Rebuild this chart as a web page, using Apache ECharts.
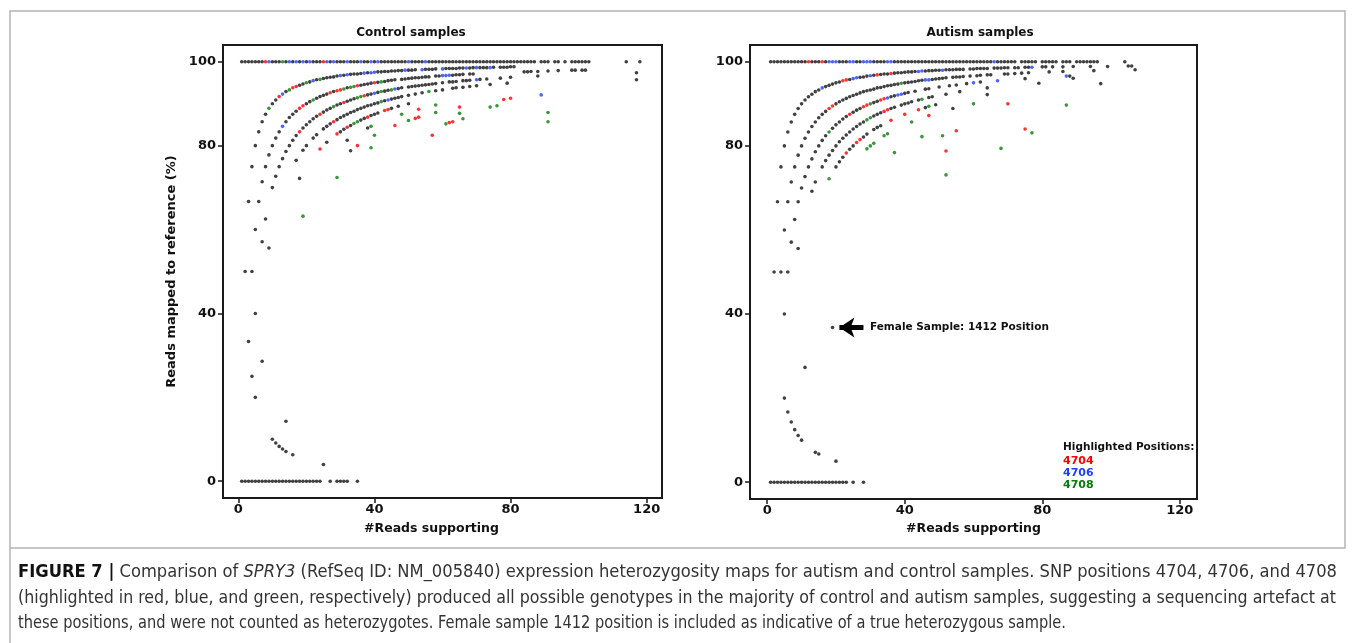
<!DOCTYPE html>
<html><head><meta charset="utf-8">
<script src="https://cdn.jsdelivr.net/npm/echarts@6/dist/echarts.min.js"></script>
<style>html,body{margin:0;padding:0;background:#fff}#c{width:1355px;height:643px}</style>
</head><body><div id="c"></div>
<script>
// ---------------- Control samples ----------------
const ctrlTop=[[1,100],[2,100],[3,100],[4,100],[5,100],[6,100],[7,100],[10,100],[11,100],[12,100],[14,100],[16,100],[18,100],[20,100],[22,100],[23,100],[24,100],[27,100],[29,100],[30,100],[31,100],[33,100],[34,100],[35,100],[37,100],[38,100],[40,100],[42,100],[43,100],[44,100],[45,100],[46,100],[47,100],[48,100],[49,100],[51,100],[52,100],[53,100],[54,100],[56,100],[57,100],[58,100],[59,100],[60,100],[61,100],[62,100],[63,100],[64,100],[65,100],[66,100],[67,100],[68,100],[69,100],[70,100],[71,100],[72,100],[73,100],[74,100],[75,100],[76,100],[77,100],[78,100],[79,100],[80,100],[81,100],[82,100],[83,100],[84,100],[85,100],[86,100],[87,100],[89,100],[90,100],[91,100],[93,100],[94,100],[96,100],[98,100],[99,100],[100,100],[101,100],[102,100],[103,100],[114,100],[118,100]];
const ctrlArc1=[[2,50],[3,66.7],[4,75],[5,80],[6,83.3],[7,85.7],[8,87.5],[10,90],[11,90.9],[14,92.9],[18,94.4],[19,94.7],[21,95.2],[23,95.7],[25,96],[26,96.2],[27,96.3],[28,96.4],[29,96.6],[31,96.8],[33,97],[34,97.1],[35,97.1],[36,97.2],[38,97.4],[41,97.6],[42,97.6],[43,97.7],[44,97.7],[45,97.8],[46,97.8],[47,97.9],[48,97.9],[50,98],[51,98],[52,98.1],[55,98.2],[56,98.2],[57,98.2],[58,98.3],[61,98.4],[62,98.4],[63,98.4],[64,98.4],[65,98.5],[66,98.5],[68,98.5],[69,98.6],[71,98.6],[72,98.6],[73,98.6],[75,98.7],[77,98.7],[78,98.7],[79,98.7],[80,98.8],[81,98.8]];
const ctrlArc2=[[3,33.3],[4,50],[5,60],[6,66.7],[7,71.4],[8,75],[9,77.8],[10,80],[11,81.8],[12,83.3],[14,85.7],[15,86.7],[16,87.5],[17,88.2],[20,90],[21,90.5],[23,91.3],[24,91.7],[25,92],[26,92.3],[28,92.9],[32,93.8],[36,94.4],[37,94.6],[38,94.7],[39,94.9],[41,95.1],[43,95.3],[44,95.5],[45,95.6],[46,95.7],[48,95.8],[49,95.9],[50,96],[51,96.1],[52,96.2],[53,96.2],[54,96.3],[55,96.4],[56,96.4],[58,96.6],[59,96.6],[63,96.8],[64,96.9],[65,96.9],[66,97],[68,97.1],[69,97.1],[84,97.6],[85,97.6],[86,97.7],[88,97.7],[91,97.8],[94,97.9],[98,98],[99,98],[101,98],[102,98]];
const ctrlArc3=[[4,25],[5,40],[7,57.1],[8,62.5],[10,70],[11,72.7],[12,75],[13,76.9],[14,78.6],[15,80],[16,81.3],[17,82.4],[19,84.2],[20,85],[21,85.7],[22,86.4],[23,87],[25,88],[26,88.5],[27,88.9],[29,89.7],[30,90],[32,90.6],[33,90.9],[34,91.2],[38,92.1],[39,92.3],[41,92.7],[43,93],[44,93.2],[47,93.6],[48,93.8],[50,94],[51,94.1],[52,94.2],[53,94.3],[54,94.4],[55,94.5],[56,94.6],[57,94.7],[58,94.8],[60,95],[62,95.2],[63,95.2],[64,95.3],[66,95.5],[67,95.5],[68,95.6],[71,95.8],[73,95.9],[77,96.1],[80,96.3],[88,96.6]];
const ctrlArc4=[[9,55.6],[17,76.5],[19,78.9],[20,80],[22,81.8],[23,82.6],[25,84],[26,84.6],[27,85.2],[29,86.2],[30,86.7],[31,87.1],[32,87.5],[33,87.9],[34,88.2],[35,88.6],[36,88.9],[37,89.2],[38,89.5],[39,89.7],[40,90],[41,90.2],[43,90.7],[45,91.1],[46,91.3],[47,91.5],[48,91.7],[50,92],[52,92.3],[54,92.6],[58,93.1],[60,93.3],[63,93.7],[64,93.8],[66,93.9],[68,94.1],[70,94.3],[74,94.6],[79,94.9]];
const ctrlArc5=[[18,72.2],[26,80.8],[30,83.3],[31,83.9],[33,84.8],[36,86.1],[37,86.5],[39,87.2],[40,87.5],[41,87.8],[45,88.9],[47,89.4],[50,90]];
const ctrlLow=[[32,81.3],[33,78.8],[38,84.2],[7,28.6],[5,20],[14,14.3],[10,10],[11,9.1],[12,8.3],[13,7.7],[14,7.1],[16,6.3],[25,4],[117,97.4],[117,95.7],
[1,0],[2,0],[3,0],[4,0],[5,0],[6,0],[7,0],[8,0],[9,0],[10,0],[11,0],[12,0],[13,0],[14,0],[15,0],[16,0],[17,0],[18,0],[19,0],[20,0],[21,0],[22,0],[23,0],[24,0],[27,0],[29,0],[30,0],[31,0],[32,0],[35,0]];
const ctrlRed=[[8,100],[25,100],[12,91.7],[16,93.8],[17,94.1],[18,88.9],[19,89.5],[27,92.6],[29,93.1],[30,93.3],[35,94.3],[40,95],[18,83.3],[24,87.5],[31,90.3],[37,91.9],[28,85.7],[24,79.2],[29,82.8],[32,84.4],[38,86.8],[43,88.4],[44,88.6],[35,80],[46,84.8],[52,86.5],[53,86.8],[53,88.7],[57,82.5],[62,85.5],[63,85.7],[65,89.2],[78,91],[80,91.3]];
const ctrlBlue=[[9,100],[15,100],[17,100],[19,100],[21,100],[26,100],[28,100],[32,100],[36,100],[39,100],[41,100],[50,100],[55,100],[13,92.3],[22,95.5],[30,96.7],[32,96.9],[37,97.3],[39,97.4],[40,97.5],[49,98],[54,98.1],[60,98.3],[67,98.5],[70,98.6],[74,98.6],[13,84.6],[60,96.7],[61,96.7],[62,96.8],[40,92.5],[46,93.5],[70,95.7],[44,90.9],[89,92.1]];
const ctrlGreen=[[13,100],[9,88.9],[15,93.3],[20,95],[24,95.8],[22,90.9],[31,93.5],[33,93.9],[34,94.1],[42,95.2],[28,89.3],[35,91.4],[36,91.7],[42,92.9],[45,93.3],[42,90.5],[56,92.9],[34,85.3],[35,85.7],[19,63.2],[29,72.4],[39,84.6],[40,82.5],[39,79.5],[48,87.5],[50,86],[58,89.7],[58,87.9],[61,85.2],[65,87.7],[66,86.4],[74,89.2],[76,89.5],[91,87.9],[91,85.7]];

// ---------------- Autism samples ----------------
const autTop=[[1,100],[2,100],[3,100],[4,100],[5,100],[6,100],[7,100],[8,100],[9,100],[10,100],[11,100],[13,100],[14,100],[15,100],[17,100],[21,100],[22,100],[23,100],[26,100],[27,100],[31,100],[32,100],[33,100],[34,100],[37,100],[38,100],[39,100],[40,100],[41,100],[42,100],[43,100],[44,100],[45,100],[46,100],[47,100],[48,100],[49,100],[50,100],[51,100],[52,100],[53,100],[54,100],[55,100],[56,100],[57,100],[58,100],[59,100],[60,100],[61,100],[62,100],[63,100],[64,100],[65,100],[67,100],[68,100],[69,100],[70,100],[71,100],[72,100],[74,100],[75,100],[76,100],[77,100],[78,100],[80,100],[81,100],[82,100],[83,100],[84,100],[86,100],[87,100],[88,100],[90,100],[91,100],[92,100],[93,100],[94,100],[95,100],[96,100],[104,100]];
const autArc1=[[2,50],[3,66.7],[4,75],[5,80],[6,83.3],[7,85.7],[8,87.5],[9,88.9],[10,90],[11,90.9],[12,91.7],[13,92.3],[14,92.9],[15,93.3],[17,94.1],[18,94.4],[19,94.7],[20,95],[21,95.2],[24,95.8],[27,96.3],[28,96.4],[29,96.6],[31,96.8],[33,97],[34,97.1],[35,97.1],[37,97.3],[38,97.4],[39,97.4],[40,97.5],[41,97.6],[42,97.6],[43,97.7],[46,97.8],[47,97.9],[48,97.9],[49,98],[50,98],[52,98.1],[53,98.1],[54,98.1],[55,98.2],[56,98.2],[57,98.2],[59,98.3],[60,98.3],[61,98.4],[62,98.4],[63,98.4],[64,98.4],[66,98.5],[67,98.5],[68,98.5],[69,98.6],[70,98.6],[72,98.6],[73,98.6],[75,98.7],[76,98.7],[80,98.8],[81,98.8],[83,98.8],[86,98.8],[89,98.9]];
const autArc2=[[4,50],[5,60],[6,66.7],[7,71.4],[8,75],[9,77.8],[10,80],[11,81.8],[12,83.3],[13,84.6],[14,85.7],[15,86.7],[16,87.5],[17,88.2],[20,90],[21,90.5],[22,90.9],[23,91.3],[24,91.7],[25,92],[26,92.3],[27,92.6],[28,92.9],[29,93.1],[30,93.3],[31,93.5],[32,93.8],[33,93.9],[34,94.1],[35,94.3],[36,94.4],[37,94.6],[38,94.7],[40,95],[41,95.1],[42,95.2],[43,95.3],[44,95.5],[45,95.6],[48,95.8],[49,95.9],[50,96],[51,96.1],[52,96.2],[54,96.3],[55,96.4],[56,96.4],[57,96.5],[59,96.6],[61,96.7],[62,96.8],[64,96.9],[65,96.9],[69,97.1],[70,97.1],[72,97.2],[74,97.3],[76,97.4],[82,97.6],[86,97.7]];
const autArc3=[[5,40],[6,50],[7,57.1],[8,62.5],[9,66.7],[10,70],[11,72.7],[12,75],[13,76.9],[14,78.6],[15,80],[16,81.3],[17,82.4],[19,84.2],[20,85],[21,85.7],[22,86.4],[23,87],[25,88],[26,88.5],[27,88.9],[31,90.3],[32,90.6],[36,91.7],[37,91.9],[40,92.5],[41,92.7],[43,93],[46,93.5],[47,93.6],[50,94],[53,94.3],[55,94.5],[58,94.8],[62,95.2],[75,96],[88,96.6]];
const autArc4=[[9,55.6],[13,69.2],[14,71.4],[16,75],[17,76.5],[18,77.8],[19,78.9],[20,80],[21,81],[22,81.8],[23,82.6],[24,83.3],[25,84],[26,84.6],[27,85.2],[28,85.7],[31,87.1],[32,87.5],[33,87.9],[36,88.9],[37,89.2],[39,89.7],[40,90],[41,90.2],[42,90.5],[44,90.9],[47,91.5],[48,91.7],[52,92.3],[56,92.9],[64,93.8],[79,94.9]];
const autArc5=[[20,75],[21,76.2],[22,77.3],[24,79.2],[25,80],[28,82.1],[29,82.8],[31,83.9],[32,84.4],[33,84.8],[49,89.8],[64,92.2],[46,89.1],[54,88.9]];
const autLow=[[20,5],[14,7.1],[15,6.7],[5,20],[6,16.7],[7,14.3],[8,12.5],[9,11.1],[10,10],[11,27.3],[19,36.8],[97,94.8],[94,98.9],[95,97.9],[99,98.9],[105,99],[106,99],[107,98.1],[89,96.1],
[1,0],[2,0],[3,0],[4,0],[5,0],[6,0],[7,0],[8,0],[9,0],[10,0],[11,0],[12,0],[13,0],[14,0],[15,0],[16,0],[17,0],[18,0],[19,0],[20,0],[21,0],[22,0],[23,0],[25,0],[28,0]];
const autRed=[[12,100],[16,100],[22,95.5],[23,95.7],[32,96.9],[36,97.2],[18,88.9],[19,89.5],[24,87.5],[28,89.3],[29,89.7],[33,90.9],[34,91.2],[34,88.2],[35,88.6],[23,78.3],[26,80.8],[27,81.5],[36,86.1],[40,87.5],[44,88.6],[47,87.2],[52,78.8],[55,83.6],[70,90],[75,84]];
const autBlue=[[18,100],[19,100],[20,100],[24,100],[25,100],[28,100],[29,100],[30,100],[35,100],[36,100],[66,100],[16,93.8],[25,96],[26,96.2],[30,96.7],[44,97.7],[45,97.8],[51,98],[77,98.7],[46,95.7],[47,95.7],[35,91.4],[38,92.1],[39,92.3],[60,95],[67,95.5],[87,96.6]];
const autGreen=[[39,94.9],[18,83.3],[30,90],[29,86.2],[30,86.7],[45,91.1],[18,72.2],[47,89.4],[29,79.3],[30,80],[31,80.6],[34,82.4],[35,82.9],[42,85.7],[60,90],[37,78.4],[45,82.2],[51,82.4],[52,73.1],[68,79.4],[77,83.1],[87,89.7]];

const xTicks=[0,40,80,120];
const yTicks=[0,40,80,100];
const legendItems=[['4704','#ff0000'],['4706','#1f3fff'],['4708','#0a7a0a']];

const FF='"DejaVu Sans", Verdana, sans-serif';
const INK='#111';
const chart=echarts.init(document.getElementById('c'),null,{renderer:'canvas'});

function xAx(gi,min,max,gap,pad){return {gridIndex:gi,type:'value',min:min,max:max,
 axisLine:{show:true,onZero:false,lineStyle:{color:'#1a1a1a',width:2}},
 axisTick:{show:true,customValues:xTicks,length:5,lineStyle:{color:'#1a1a1a',width:1.5}},
 axisLabel:{customValues:xTicks,margin:5,color:INK,fontFamily:FF,fontWeight:'bold',fontSize:13},
 splitLine:{show:false},
 name:'#Reads supporting',nameLocation:'middle',nameGap:gap,
 nameTextStyle:{color:INK,fontFamily:FF,fontWeight:'bold',fontSize:12.5,padding:pad}};}
function yAx(gi,name){return {gridIndex:gi,type:'value',min:-4,max:104,
 axisLine:{show:true,onZero:false,lineStyle:{color:'#1a1a1a',width:2}},
 axisTick:{show:true,customValues:yTicks,length:5,lineStyle:{color:'#1a1a1a',width:1.5}},
 axisLabel:{customValues:yTicks,margin:7,color:INK,fontFamily:FF,fontWeight:'bold',fontSize:13},
 splitLine:{show:false},
 name:name,nameLocation:'middle',nameGap:45,nameRotate:90,
 nameTextStyle:{color:INK,fontFamily:FF,fontWeight:'bold',fontSize:13}};}
function sc(xi,data,color,extra){return Object.assign({type:'scatter',xAxisIndex:xi,yAxisIndex:xi,data:data,
 symbol:'circle',symbolSize:3.6,itemStyle:{color:color},silent:true,animation:false},extra||{});}

const ctrlBlack=[].concat(ctrlTop,ctrlArc1,ctrlArc2,ctrlArc3,ctrlArc4,ctrlArc5,ctrlLow);
const autBlack=[].concat(autTop,autArc1,autArc2,autArc3,autArc4,autArc5,autLow);

const option={
 backgroundColor:'#fff',animation:false,
 title:[
  {text:'Control samples',left:406,top:22,textAlign:'center',textStyle:{fontFamily:FF,fontWeight:'bold',fontSize:12,color:INK}},
  {text:'Autism samples',left:975,top:22,textAlign:'center',textStyle:{fontFamily:FF,fontWeight:'bold',fontSize:12,color:INK}}
 ],
 grid:[
  {left:223,top:45,width:439,height:453,show:true,borderColor:'#1a1a1a',borderWidth:2,backgroundColor:'#fff'},
  {left:750,top:45,width:447,height:454,show:true,borderColor:'#1a1a1a',borderWidth:2,backgroundColor:'#fff'}
 ],
 xAxis:[xAx(0,-4.5,124.5,24,[0,22,0,0]),xAx(1,-5,125,15,[0,0,0,0])],
 yAxis:[yAx(0,'Reads mapped to reference (%)'),yAx(1,'')],
 series:[
  sc(0,ctrlBlack,'#111'),
  sc(0,ctrlGreen,'#0a7a0a'),
  sc(0,ctrlBlue,'#1f3fff'),
  sc(0,ctrlRed,'#ff0000'),
  sc(1,autBlack,'#111',{
    markLine:{silent:true,animation:false,symbol:['none','arrow'],symbolSize:15,
      lineStyle:{color:'#000',width:5,type:'solid'},label:{show:false},
      data:[[{coord:[28,36.8]},{coord:[21,36.8]}]]},
    markPoint:{silent:true,animation:false,data:[{coord:[29.9,36.8],symbol:'circle',symbolSize:0,
      label:{show:true,position:'right',distance:0,formatter:'Female Sample: 1412 Position',
      color:INK,fontFamily:FF,fontWeight:'bold',fontSize:10.5}}]}
  }),
  sc(1,autGreen,'#0a7a0a'),
  sc(1,autBlue,'#1f3fff'),
  sc(1,autRed,'#ff0000')
 ]
};
chart.setOption(option);

// caption & frame
const capFont='"DejaVu Sans Condensed","Liberation Sans Narrow","Liberation Sans",sans-serif';
const capSize=17;
const cv=document.createElement('canvas').getContext('2d');
function segW(segs){let w=0;segs.forEach(function(s){cv.font=(s[1]||'')+' '+capSize+'px '+capFont;w+=cv.measureText(s[0]).width;});return w;}
const rich={b:{fontFamily:capFont,fontSize:capSize,fontWeight:'bold',fill:'#111'},i:{fontFamily:capFont,fontSize:capSize,fontStyle:'italic',fill:'#333'}};
const capLines=[
 {y:573,w:1319,segs:[['FIGURE 7 |','bold'],[' Comparison of ',''],['SPRY3','italic'],[' (RefSeq ID: NM_005840) expression heterozygosity maps for autism and control samples. SNP positions 4704, 4706, and 4708','']],
  text:'{b|FIGURE 7 |} Comparison of {i|SPRY3} (RefSeq ID: NM_005840) expression heterozygosity maps for autism and control samples. SNP positions 4704, 4706, and 4708'},
 {y:599,w:1318,segs:[['(highlighted in red, blue, and green, respectively) produced all possible genotypes in the majority of control and autism samples, suggesting a sequencing artefact at','']],
  text:'(highlighted in red, blue, and green, respectively) produced all possible genotypes in the majority of control and autism samples, suggesting a sequencing artefact at'},
 {y:624,w:1048,segs:[['these positions, and were not counted as heterozygotes. Female sample 1412 position is included as indicative of a true heterozygous sample.','']],
  text:'these positions, and were not counted as heterozygotes. Female sample 1412 position is included as indicative of a true heterozygous sample.'}
];
const g=[
 {type:'rect',silent:true,shape:{x:10,y:11,width:1335,height:537},style:{fill:'none',stroke:'#b4b4b4',lineWidth:1.5}},
 {type:'line',silent:true,shape:{x1:10,y1:548,x2:10,y2:643},style:{stroke:'#b4b4b4',lineWidth:1.5}},
 {type:'text',x:1063,y:447,silent:true,style:{text:'Highlighted Positions:',fontFamily:FF,fontWeight:'bold',fontSize:10.5,fill:INK,verticalAlign:'middle'}}
];
capLines.forEach(function(L){
 const s=L.w/segW(L.segs);
 g.push({type:'text',x:18,y:L.y,scaleX:s,scaleY:1,originX:0,originY:0,silent:true,
  style:{x:0,y:0,text:L.text,rich:rich,fontFamily:capFont,fontSize:capSize,fill:'#333',verticalAlign:'middle'}});
});
legendItems.forEach(function(it,i){g.push({type:'text',x:1063,y:461+12.2*i,silent:true,style:{text:it[0],fontFamily:FF,fontWeight:'bold',fontSize:11,fill:it[1],verticalAlign:'middle'}});});
chart.setOption({graphic:g});
</script></body></html>
